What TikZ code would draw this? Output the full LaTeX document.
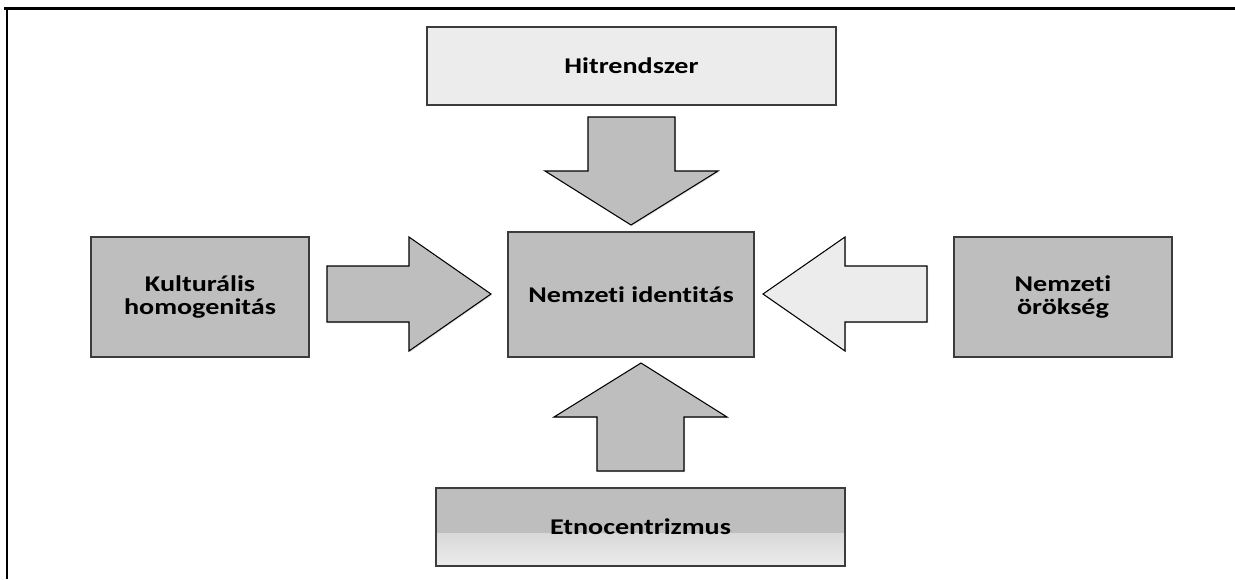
\documentclass[tikz,border=0pt]{standalone}
\usepackage{fontspec}
\setmainfont[FakeStretch=1.25,RawFeature=-liga]{Carlito}
\usetikzlibrary{shadows}
\definecolor{boxgray}{RGB}{190,190,190}
\definecolor{boxlight}{RGB}{236,236,236}
\definecolor{boxline}{RGB}{60,60,60}

\begin{document}
\begin{tikzpicture}[x=0.02cm,y=-0.02cm]
  \tikzset{box/.style = {shape=rectangle,draw=boxline,line width=1.1pt,fill=boxgray,align=center,font=\bfseries\fontsize{12.8}{13}\selectfont,drop shadow={opacity=0.3,shadow xshift=0.7pt,shadow yshift=-0.7pt}}}
    \tikzset{lightbox/.style = {box,fill=boxlight}}
    \tikzset{etnobox/.style = {box,path picture={\shade[top color=boxgray,bottom color=boxlight] ([yshift=0.66cm]path picture bounding box.south west) rectangle (path picture bounding box.south east);}}}
  \tikzset{blockarrow/.style = {draw=black,line width=0.6pt,fill=boxgray,line join=miter,drop shadow={opacity=0.25,shadow xshift=0.6pt,shadow yshift=-0.6pt}}}

  \useasboundingbox (0,0) rectangle (1235,579);

  % frame
  \draw[line width=1.7pt] (4,8.5) -- (1235,8.5);
  \draw[line width=1.7pt] (7,8.5) -- (7,579);

	\node[lightbox,minimum width=8.18cm,minimum height=1.56cm] (hit) at (631.5,66) {Hitrendszer};
	\node[box,minimum width=4.92cm,minimum height=2.5cm] (nemzet) at (631,294.5) {Nemzeti identitás};
	\node[box,minimum width=4.36cm,minimum height=2.4cm] (kult) at (200,297) {Kulturális\\homogenitás};
	\node[box,minimum width=4.36cm,minimum height=2.4cm] (orok) at (1063,297) {Nemzeti\\örökség};
	\node[etnobox,minimum width=8.18cm,minimum height=1.56cm] (etno) at (640.5,527) {Etnocentrizmus};

	% block arrows
	\draw[blockarrow] (588,117) -- (675,117) -- (675,171) -- (718,171) -- (631,225) -- (545,171) -- (588,171) -- cycle;
	\draw[blockarrow] (327,266) -- (409,266) -- (409,237) -- (491,294) -- (409,351) -- (409,322) -- (327,322) -- cycle;
	\draw[blockarrow,fill=boxlight] (927,266) -- (845,266) -- (845,237) -- (763,294) -- (845,351) -- (845,322) -- (927,322) -- cycle;
	\draw[blockarrow] (597,471) -- (597,417) -- (554,417) -- (641,363) -- (727,417) -- (684,417) -- (684,471) -- cycle;

\end{tikzpicture}
\end{document}
